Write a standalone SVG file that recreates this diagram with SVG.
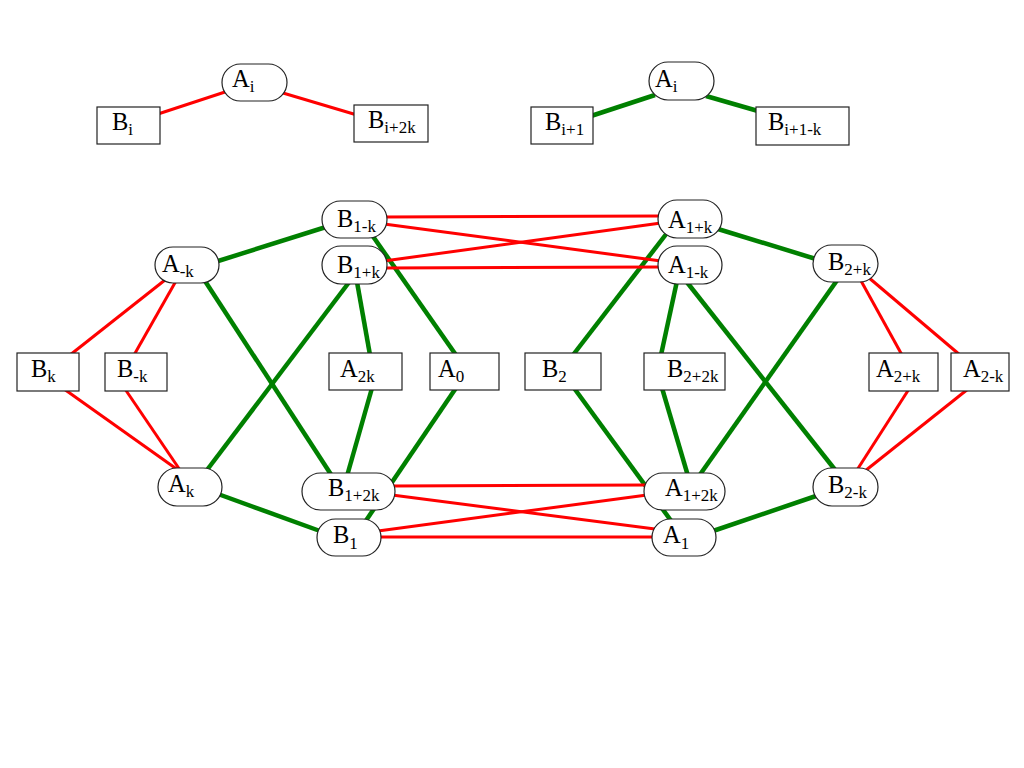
<svg xmlns="http://www.w3.org/2000/svg" width="1024" height="768" viewBox="0 0 1024 768">
<style>
.n{fill:#fff;stroke:#222;stroke-width:1.2}
.g{stroke:#008000;stroke-width:4.5;fill:none}
.r{stroke:#ff0000;stroke-width:3;fill:none}
text{font-family:"Liberation Serif","Times New Roman",serif;font-size:24.5px;fill:#000}
.s{font-size:17px}
</style>
<rect width="1024" height="768" fill="#fff"/>
<g id="connectors">
<line class="r" x1="158" y1="114" x2="225" y2="92"/>
<line class="r" x1="283" y1="93" x2="357" y2="115"/>
<line class="g" x1="591" y1="116" x2="655" y2="95"/>
<line class="g" x1="706" y1="96" x2="758" y2="111"/>
<line class="g" x1="215" y1="262" x2="326" y2="227"/>
<line class="g" x1="205" y1="281" x2="332" y2="476"/>
<line class="g" x1="207" y1="470" x2="350" y2="281"/>
<line class="g" x1="218" y1="494" x2="320" y2="531"/>
<line class="g" x1="357" y1="282" x2="370" y2="355"/>
<line class="g" x1="372" y1="388" x2="347" y2="476"/>
<line class="g" x1="372" y1="235" x2="456" y2="355"/>
<line class="g" x1="456" y1="388" x2="365" y2="522"/>
<line class="g" x1="718" y1="229" x2="816" y2="259"/>
<line class="g" x1="573" y1="355" x2="667" y2="233"/>
<line class="g" x1="677" y1="281" x2="661" y2="355"/>
<line class="g" x1="662" y1="388" x2="688" y2="476"/>
<line class="g" x1="686" y1="281" x2="836" y2="471"/>
<line class="g" x1="838" y1="279" x2="699" y2="476"/>
<line class="g" x1="574" y1="388" x2="672" y2="522"/>
<line class="g" x1="816" y1="496" x2="713" y2="531"/>
<line class="r" x1="165" y1="280" x2="70" y2="355"/>
<line class="r" x1="176" y1="281" x2="134" y2="355"/>
<line class="r" x1="64" y1="389" x2="178" y2="470"/>
<line class="r" x1="125" y1="389" x2="180" y2="470"/>
<line class="r" x1="860" y1="279" x2="902" y2="355"/>
<line class="r" x1="868" y1="277" x2="960" y2="355"/>
<line class="r" x1="909" y1="389" x2="857" y2="470"/>
<line class="r" x1="968" y1="389" x2="865" y2="471"/>
<line class="r" x1="384" y1="217" x2="661" y2="216"/>
<line class="r" x1="384" y1="224" x2="661" y2="261"/>
<line class="r" x1="384" y1="261" x2="661" y2="223"/>
<line class="r" x1="384" y1="268" x2="661" y2="267"/>
<line class="r" x1="392" y1="486" x2="647" y2="485"/>
<line class="r" x1="392" y1="495" x2="655" y2="529"/>
<line class="r" x1="378" y1="531" x2="647" y2="495"/>
<line class="r" x1="378" y1="537" x2="655" y2="537"/>
</g>
<g id="legA1"><rect class="n" x="222" y="64" width="65" height="37" rx="18.5"/><text x="232" y="87">A<tspan class="s" dy="5">i</tspan></text></g>
<g id="legBi"><rect class="n" x="97" y="107" width="63" height="37"/><text x="112" y="130">B<tspan class="s" dy="5">i</tspan></text></g>
<g id="legBi2k"><rect class="n" x="354" y="105" width="74" height="37"/><text x="368" y="128">B<tspan class="s" dy="5">i+2k</tspan></text></g>
<g id="legA2"><rect class="n" x="649" y="62" width="65" height="38" rx="19"/><text x="655" y="87">A<tspan class="s" dy="5">i</tspan></text></g>
<g id="legBi1"><rect class="n" x="531" y="107" width="62" height="37"/><text x="545" y="130">B<tspan class="s" dy="5">i+1</tspan></text></g>
<g id="legBi1k"><rect class="n" x="756" y="107" width="93" height="38"/><text x="768" y="130">B<tspan class="s" dy="5">i+1-k</tspan></text></g>
<g id="B1mk"><rect class="n" x="322" y="201" width="65" height="37" rx="18.5"/><text x="337" y="227">B<tspan class="s" dy="5">1-k</tspan></text></g>
<g id="B1pk"><rect class="n" x="322" y="246" width="65" height="38" rx="19"/><text x="337" y="273">B<tspan class="s" dy="5">1+k</tspan></text></g>
<g id="A1pk"><rect class="n" x="658" y="200" width="64" height="38" rx="19"/><text x="668" y="228">A<tspan class="s" dy="5">1+k</tspan></text></g>
<g id="A1mk"><rect class="n" x="658" y="246" width="64" height="38" rx="19"/><text x="668" y="273">A<tspan class="s" dy="5">1-k</tspan></text></g>
<g id="Amk"><rect class="n" x="155" y="247" width="64" height="36" rx="18"/><text x="162" y="272">A<tspan class="s" dy="5">-k</tspan></text></g>
<g id="Ak"><rect class="n" x="158" y="468" width="64" height="38" rx="19"/><text x="168" y="492">A<tspan class="s" dy="5">k</tspan></text></g>
<g id="B1p2k"><rect class="n" x="302" y="473" width="93" height="37" rx="18.5"/><text x="328" y="496">B<tspan class="s" dy="5">1+2k</tspan></text></g>
<g id="A1p2k"><rect class="n" x="644" y="473" width="81" height="37" rx="18.5"/><text x="665" y="496">A<tspan class="s" dy="5">1+2k</tspan></text></g>
<g id="B1"><rect class="n" x="317" y="519" width="64" height="37" rx="18.5"/><text x="333" y="543">B<tspan class="s" dy="6">1</tspan></text></g>
<g id="A1"><rect class="n" x="652" y="519" width="64" height="37" rx="18.5"/><text x="663" y="543">A<tspan class="s" dy="6">1</tspan></text></g>
<g id="B2pk"><rect class="n" x="813" y="245" width="65" height="37" rx="18.5"/><text x="828" y="270">B<tspan class="s" dy="5">2+k</tspan></text></g>
<g id="B2mk"><rect class="n" x="813" y="468" width="65" height="38" rx="19"/><text x="828" y="493">B<tspan class="s" dy="5">2-k</tspan></text></g>
<g id="Bk"><rect class="n" x="17" y="353" width="62" height="38"/><text x="31" y="377">B<tspan class="s" dy="5">k</tspan></text></g>
<g id="Bmk"><rect class="n" x="105" y="353" width="62" height="38"/><text x="117" y="377">B<tspan class="s" dy="5">-k</tspan></text></g>
<g id="A2k"><rect class="n" x="329" y="353" width="73" height="37"/><text x="340" y="377">A<tspan class="s" dy="5">2k</tspan></text></g>
<g id="A0"><rect class="n" x="430" y="353" width="69" height="37"/><text x="438" y="377">A<tspan class="s" dy="5">0</tspan></text></g>
<g id="B2"><rect class="n" x="525" y="353" width="76" height="37"/><text x="542" y="377">B<tspan class="s" dy="5">2</tspan></text></g>
<g id="B2p2k"><rect class="n" x="644" y="353" width="81" height="37"/><text x="667" y="377">B<tspan class="s" dy="5">2+2k</tspan></text></g>
<g id="A2pk"><rect class="n" x="869" y="353" width="69" height="38"/><text x="876" y="377">A<tspan class="s" dy="5">2+k</tspan></text></g>
<g id="A2mk"><rect class="n" x="951" y="353" width="58" height="38"/><text x="963" y="377">A<tspan class="s" dy="5">2-k</tspan></text></g>
</svg>
